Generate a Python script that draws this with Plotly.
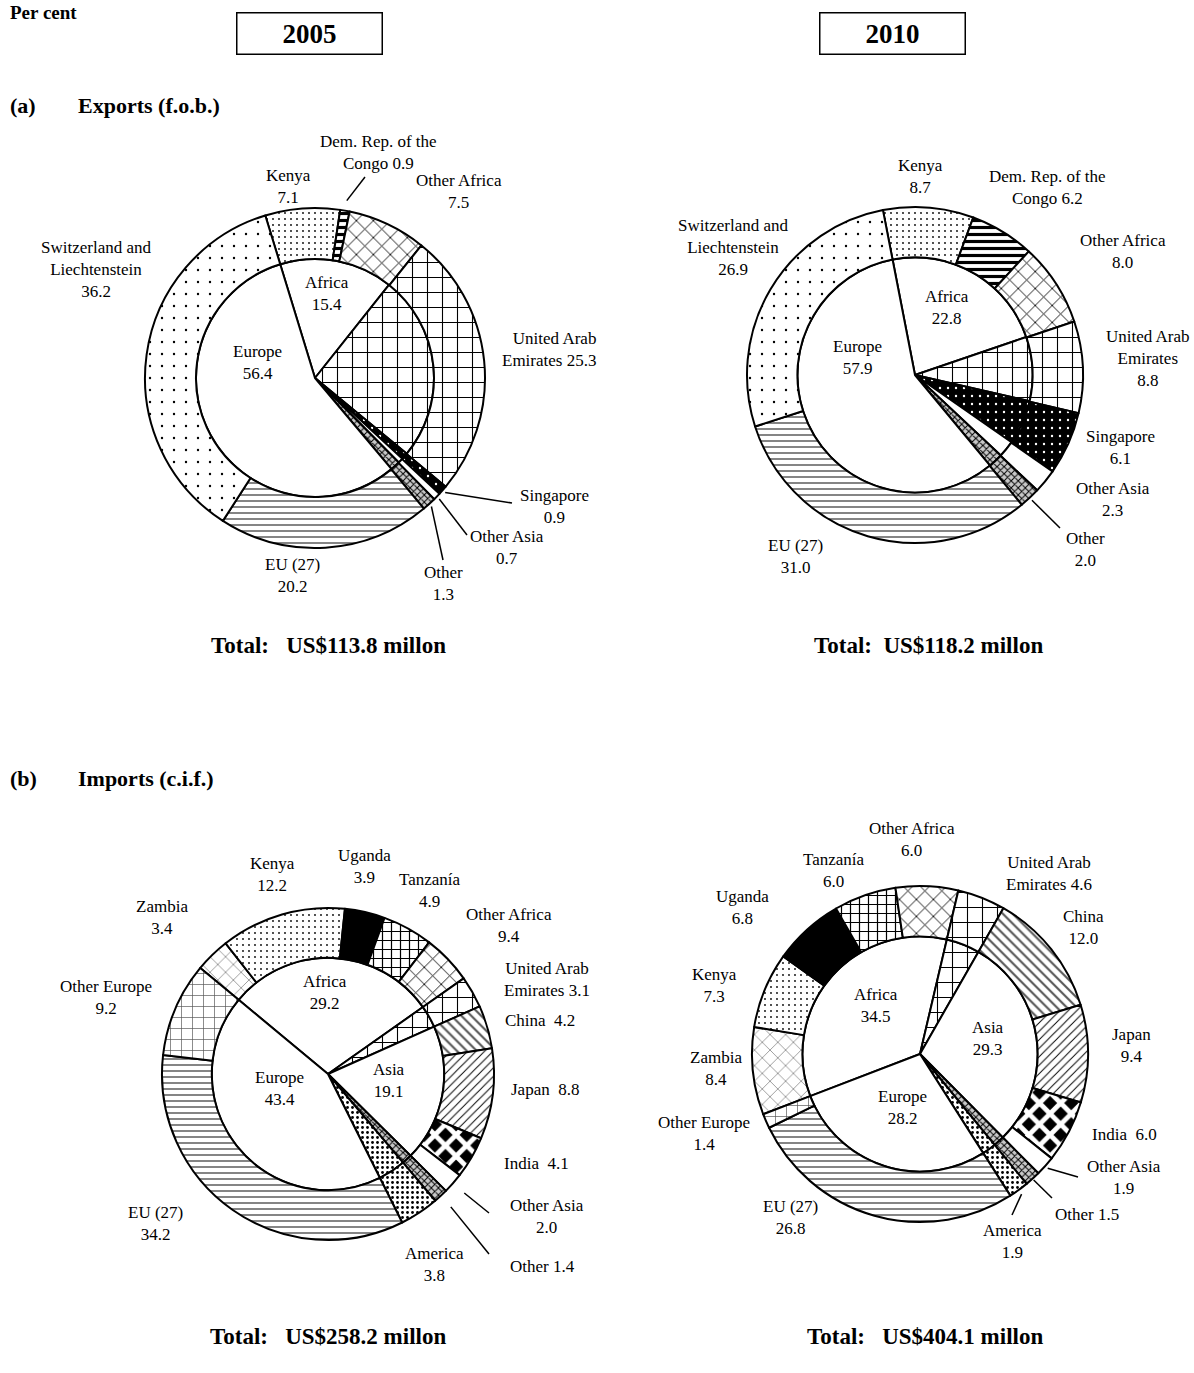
import math
import plotly.graph_objects as go

W, H = 1194, 1373
FONT = "Liberation Serif, Times New Roman, serif"

# ====================== DATA ======================
# ---- (a) Exports ----
exp_countries = ["Kenya", "Dem. Rep. of the Congo", "Other Africa", "United Arab Emirates",
                 "Singapore", "Other Asia", "Other", "EU (27)", "Switzerland and Liechtenstein"]
exp_regions = ["Africa", "United Arab Emirates", "Singapore", "Other Asia", "Other", "Europe"]

exp2005_values = [7.1, 0.9, 7.5, 25.3, 0.9, 0.7, 1.3, 20.2, 36.2]
exp2005_region_values = [15.4, 25.3, 0.9, 0.7, 1.3, 56.4]
exp2005_labels = ["Kenya<br>7.1", "Dem. Rep. of the<br>Congo 0.9", "Other Africa<br>7.5",
                  "United Arab<br>Emirates 25.3", "Singapore<br>0.9", "Other Asia<br>0.7",
                  "Other<br>1.3", "EU (27)<br>20.2", "Switzerland and<br>Liechtenstein<br>36.2"]
exp2005_region_labels = ["Africa<br>15.4", "Europe<br>56.4"]

exp2010_values = [8.7, 6.2, 8.0, 8.8, 6.1, 2.3, 2.0, 31.0, 26.9]
exp2010_region_values = [22.8, 8.8, 6.1, 2.3, 2.0, 57.9]
exp2010_labels = ["Kenya<br>8.7", "Dem. Rep. of the<br>Congo 6.2", "Other Africa<br>8.0",
                  "United Arab<br>Emirates<br>8.8", "Singapore<br>6.1", "Other Asia<br>2.3",
                  "Other<br>2.0", "EU (27)<br>31.0", "Switzerland and<br>Liechtenstein<br>26.9"]
exp2010_region_labels = ["Africa<br>22.8", "Europe<br>57.9"]

# ---- (b) Imports ----
imp_countries = ["Zambia", "Kenya", "Uganda", "Tanzanía", "Other Africa", "United Arab Emirates",
                 "China", "Japan", "India", "Other Asia", "Other", "America", "EU (27)", "Other Europe"]
imp_regions = ["Africa", "United Arab Emirates", "Asia", "Other", "America", "Europe"]

# Other Africa is drawn in the source at about 4.8 (Africa total 29.2) although printed as 9.4
imp2005_values = [3.4, 12.2, 3.9, 4.9, 4.8, 3.1, 4.2, 8.8, 4.1, 2.0, 1.4, 3.8, 34.2, 9.2]
imp2005_region_values = [29.2, 3.1, 19.1, 1.4, 3.8, 43.4]
imp2005_labels = ["Zambia<br>3.4", "Kenya<br>12.2", "Uganda<br>3.9", "Tanzanía<br>4.9",
                  "Other Africa<br>9.4", "United Arab<br>Emirates 3.1", "China\u00a0\u00a04.2",
                  "Japan\u00a0\u00a08.8", "India\u00a0\u00a04.1", "Other Asia<br>2.0", "Other 1.4",
                  "America<br>3.8", "EU (27)<br>34.2", "Other Europe<br>9.2"]
imp2005_region_labels = ["Africa<br>29.2", "Asia<br>19.1", "Europe<br>43.4"]

imp2010_values = [8.4, 7.3, 6.8, 6.0, 6.0, 4.6, 12.0, 9.4, 6.0, 1.9, 1.5, 1.9, 26.8, 1.4]
imp2010_region_values = [34.5, 4.6, 29.3, 1.5, 1.9, 28.2]
imp2010_labels = ["Zambia<br>8.4", "Kenya<br>7.3", "Uganda<br>6.8", "Tanzanía<br>6.0",
                  "Other Africa<br>6.0", "United Arab<br>Emirates 4.6", "China<br>12.0",
                  "Japan<br>9.4", "India\u00a0\u00a06.0", "Other Asia<br>1.9", "Other 1.5",
                  "America<br>1.9", "EU (27)<br>26.8", "Other Europe<br>1.4"]
imp2010_region_labels = ["Africa<br>34.5", "Asia<br>29.3", "Europe<br>28.2"]

totals = ["Total:\u00a0\u00a0\u00a0US$113.8 millon", "Total:\u00a0\u00a0US$118.2 millon",
          "Total:\u00a0\u00a0\u00a0US$258.2 millon", "Total:\u00a0\u00a0\u00a0US$404.1 millon"]

# ====================== STYLES ======================
# shape, fg, bg, size, solidity
PATTERN = {
    "Switzerland and Liechtenstein": (".", "black", "white", 12, 0.03),
    "Kenya": (".", "black", "white", 6, 0.07),
    "Dem. Rep. of the Congo": ("-", "black", "white", 7, 0.45),
    "Other Africa": ("x", "black", "white", 12, 0.14),
    "United Arab Emirates": ("+", "black", "white", 15, 0.14),
    "Singapore": (".", "white", "black", 8, 0.07),
    "Other Asia": ("", "black", "white", 8, 0.3),
    "Other": ("x", "black", "#c8c8c8", 5, 0.35),
    "EU (27)": ("-", "#333333", "white", 6, 0.2),
    "America": (".", "black", "white", 5, 0.25),
    "Other Europe": ("+", "#555555", "white", 11, 0.12),
    "Zambia": ("x", "#555555", "white", 11, 0.1),
    "Uganda": ("", "black", "black", 8, 0.3),
    "Tanzanía": ("+", "black", "white", 9, 0.25),
    "China": ("\\", "#555555", "white", 7, 0.3),
    "Japan": ("/", "black", "white", 6, 0.16),
    "India": ("x", "white", "black", 15, 0.55),
    "Africa": ("", "black", "white", 8, 0.3),
    "Asia": ("", "black", "white", 8, 0.3),
    "Europe": ("", "black", "white", 8, 0.3),
}

HOLE = 0.70

CHARTS = [
    dict(countries=exp_countries, values=exp2005_values, regions=exp_regions,
         region_values=exp2005_region_values, labels=exp2005_labels,
         region_labels=exp2005_region_labels, cx=315, cy=378, r=170, rotation=-17,
         label_pos=[(288, 186, "center"), (378, 152, "center"), (459, 191, "center"),
                    (598, 350, "right"), (554, 506, "center"), (507, 547, "center"),
                    (443, 583, "center"), (292, 575, "center"), (96, 270, "center")],
         region_pos=[(327, 293), (257, 363)],
         leaders=[(1, 1.06, 365, 177), (4, 1.02, 512, 503), (5, 1.02, 467, 535),
                  (6, 1.02, 443, 560)],
         total_pos=(328, 645)),
    dict(countries=exp_countries, values=exp2010_values, regions=exp_regions,
         region_values=exp2010_region_values, labels=exp2010_labels,
         region_labels=exp2010_region_labels, cx=915, cy=375, r=168, rotation=-11,
         label_pos=[(920, 177, "center"), (1047, 187, "center"), (1123, 251, "center"),
                    (1148, 358, "center"), (1120, 447, "center"), (1113, 499, "center"),
                    (1085, 550, "center"), (795, 556, "center"), (733, 247, "center")],
         region_pos=[(947, 307), (857, 357)],
         leaders=[(6, 1.02, 1060, 528)],
         total_pos=(928, 645)),
    dict(countries=imp_countries, values=imp2005_values, regions=imp_regions,
         region_values=imp2005_region_values, labels=imp2005_labels,
         region_labels=imp2005_region_labels, cx=328, cy=1074, r=166, rotation=-50.3,
         label_pos=[(162, 917, "center"), (272, 874, "center"), (364, 866, "center"),
                    (430, 890, "center"), (509, 925, "center"), (547, 979, "center"),
                    (540, 1020, "center"), (545, 1089, "center"), (536, 1163, "center"),
                    (547, 1216, "center"), (542, 1266, "center"), (434, 1264, "center"),
                    (155, 1223, "center"), (106, 997, "center")],
         region_pos=[(325, 992), (389, 1080), (279, 1088)],
         leaders=[(9, 1.09, 489, 1213), (10, 1.09, 489, 1254)],
         total_pos=(328, 1336)),
    dict(countries=imp_countries, values=imp2010_values, regions=imp_regions,
         region_values=imp2010_region_values, labels=imp2010_labels,
         region_labels=imp2010_region_labels, cx=920, cy=1054, r=168, rotation=-111,
         label_pos=[(716, 1068, "center"), (714, 985, "center"), (742, 907, "center"),
                    (834, 870, "center"), (912, 839, "center"), (1049, 873, "center"),
                    (1083, 927, "center"), (1131, 1045, "center"), (1124, 1134, "center"),
                    (1124, 1177, "center"), (1087, 1214, "center"), (1012, 1241, "center"),
                    (790, 1217, "center"), (704, 1133, "center")],
         region_pos=[(876, 1005), (988, 1038), (902, 1107)],
         leaders=[(9, 1.02, 1078, 1177), (10, 1.01, 1052, 1198), (11, 1.03, 1012, 1215)],
         total_pos=(925, 1336)),
]


def px(x, y):
    return x / W, 1 - y / H


def domain(cx, cy, r):
    return dict(x=[(cx - r) / W, (cx + r) / W], y=[1 - (cy + r) / H, 1 - (cy - r) / H])


def marker_for(names):
    st = [PATTERN[n] for n in names]
    return dict(
        colors=[s[2] for s in st],
        line=dict(color="black", width=2),
        pattern=dict(shape=[s[0] for s in st], fgcolor=[s[1] for s in st],
                     bgcolor=[s[2] for s in st], size=[s[3] for s in st],
                     solidity=[s[4] for s in st], fillmode="replace"),
    )


def slice_point(values, rotation, idx, cx, cy, r, f):
    tot = float(sum(values))
    a = rotation + 360.0 * (sum(values[:idx]) + values[idx] / 2.0) / tot
    rad = math.radians(a)
    return cx + f * r * math.sin(rad), cy - f * r * math.cos(rad)


fig = go.Figure()
annotations = []
shapes = []

for ch in CHARTS:
    cx, cy, r = ch["cx"], ch["cy"], ch["r"]
    # inner pie (regions; Asian/other countries continue into the centre)
    fig.add_trace(go.Pie(
        labels=ch["regions"], values=ch["region_values"], sort=False,
        direction="clockwise", rotation=ch["rotation"], textinfo="none",
        hoverinfo="label+value", showlegend=False,
        domain=domain(cx, cy, r * HOLE), marker=marker_for(ch["regions"]),
    ))
    # outer ring (countries)
    fig.add_trace(go.Pie(
        labels=ch["countries"], values=ch["values"], sort=False, hole=HOLE,
        direction="clockwise", rotation=ch["rotation"], textinfo="none",
        hoverinfo="label+value", showlegend=False,
        domain=domain(cx, cy, r), marker=marker_for(ch["countries"]),
    ))
    for text, (lx, ly, anc) in zip(ch["labels"], ch["label_pos"]):
        x, y = px(lx, ly)
        annotations.append(dict(x=x, y=y, xref="paper", yref="paper", text=text,
                                showarrow=False, xanchor=anc, yanchor="middle", align=anc,
                                font=dict(family=FONT, size=17, color="black")))
    for text, (lx, ly) in zip(ch["region_labels"], ch["region_pos"]):
        x, y = px(lx, ly)
        annotations.append(dict(x=x, y=y, xref="paper", yref="paper", text=text,
                                showarrow=False, xanchor="center", yanchor="middle",
                                font=dict(family=FONT, size=17, color="black")))
    for idx, f, ex, ey in ch["leaders"]:
        sx, sy = slice_point(ch["values"], ch["rotation"], idx, cx, cy, r, f)
        x0, y0 = px(sx, sy)
        x1, y1 = px(ex, ey)
        shapes.append(dict(type="line", xref="paper", yref="paper", x0=x0, y0=y0,
                           x1=x1, y1=y1, line=dict(color="black", width=1.5)))

for ch, t in zip(CHARTS, totals):
    x, y = px(*ch["total_pos"])
    annotations.append(dict(x=x, y=y, xref="paper", yref="paper", text="<b>" + t + "</b>",
                            showarrow=False, xanchor="center", yanchor="middle",
                            font=dict(family=FONT, size=23, color="black")))

# headings
heads = [
    ("<b>Per cent</b>", 8, 0, "left", "top", 19),
    ("<b>(a)</b>", 8, 105, "left", "middle", 22),
    ("<b>Exports (f.o.b.)</b>", 76, 105, "left", "middle", 22),
    ("<b>(b)</b>", 8, 778, "left", "middle", 22),
    ("<b>Imports (c.i.f.)</b>", 76, 778, "left", "middle", 22),
]
for text, hx, hy, xa, ya, fs in heads:
    x, y = px(hx, hy)
    annotations.append(dict(x=x, y=y, xref="paper", yref="paper", text=text, showarrow=False,
                            xanchor=xa, yanchor=ya, font=dict(family=FONT, size=fs, color="black")))

for text, bx in [("<b>2005</b>", 309), ("<b>2010</b>", 892)]:
    x, y = px(bx, 34)
    annotations.append(dict(x=x, y=y, xref="paper", yref="paper", text=text, showarrow=False,
                            xanchor="center", yanchor="middle", width=140, height=36,
                            bordercolor="black", borderwidth=1.5, borderpad=2,
                            font=dict(family=FONT, size=27, color="black")))

fig.update_layout(
    width=W, height=H, autosize=False,
    margin=dict(l=0, r=0, t=0, b=0),
    paper_bgcolor="white", plot_bgcolor="white",
    annotations=annotations, shapes=shapes,
)

fig.write_html("out.html", config={"displayModeBar": False},
               post_script="document.body.style.margin='0';document.body.style.overflow='hidden';")
